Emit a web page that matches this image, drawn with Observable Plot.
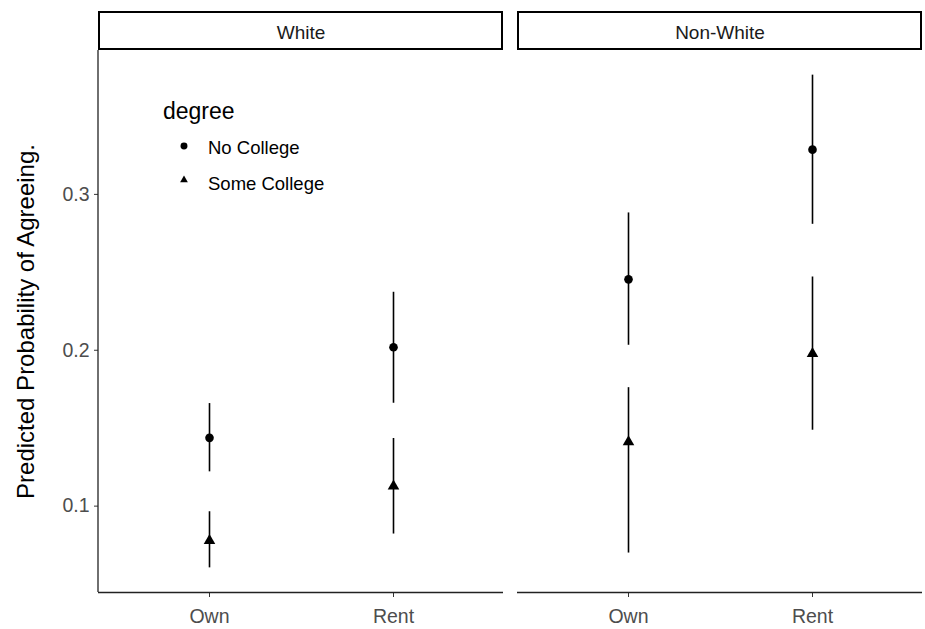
<!DOCTYPE html>
<html>
<head>
<meta charset="utf-8">
<script src="https://cdn.jsdelivr.net/npm/d3@7"></script>
<script src="https://cdn.jsdelivr.net/npm/@observablehq/plot@0.6"></script>
<style>
  html, body { margin: 0; padding: 0; background: white; }
  #chart { width: 925px; height: 629px; }
</style>
</head>
<body>
<div id="chart"></div>
<script>
// ---- data ----
const races = ["White", "Non-White"];
const tenures = ["Own", "Rent"];
const degrees = ["No College", "Some College"];
const yTicks = [0.1, 0.2, 0.3];
const yTitle = "Predicted Probability of Agreeing.";
const legendTitle = "degree";
// order: race × tenure × degree
const estimate = [0.1438, 0.0778, 0.2019, 0.1128, 0.2455, 0.1412, 0.3287, 0.1978];
const lower    = [0.1220, 0.0604, 0.1660, 0.0821, 0.2032, 0.0699, 0.2808, 0.1487];
const upper    = [0.1658, 0.0964, 0.2372, 0.1434, 0.2881, 0.1760, 0.3765, 0.2470];

const data = [];
let k = 0;
for (const race of races) for (const tenure of tenures) for (const degree of degrees) {
  data.push({race, tenure, degree, est: estimate[k], lo: lower[k], hi: upper[k]});
  k++;
}
const lo = d3.min(lower), hi = d3.max(upper);
const yDomain = [lo - 0.05 * (hi - lo), hi + 0.05 * (hi - lo)];

const font = "'Liberation Sans', Arial, sans-serif";

const chart = Plot.plot({
  width: 925, height: 629,
  marginLeft: 98, marginRight: 3, marginTop: 50, marginBottom: 37,
  style: {fontFamily: font, background: "white", overflow: "visible"},
  fx: {domain: races, paddingInner: 14 / 419, paddingOuter: 0},
  x: {domain: tenures, type: "point", padding: 0.6},
  y: {domain: yDomain},
  symbol: {domain: degrees, range: ["circle", "triangle"]},
  marks: [
    Plot.axisFx({anchor: "top", label: null, tickSize: 0, tickPadding: 12, fontSize: 19, fill: "#1a1a1a"}),
    Plot.axisY({ticks: yTicks, tickFormat: ".1f", tickSize: 4, tickPadding: 5, fontSize: 19.5,
                fill: "#4d4d4d", stroke: "#333", label: null}),
    Plot.axisX({tickSize: 5, tickPadding: 12, fontSize: 19.5, fill: "#4d4d4d", stroke: "#333", label: null}),
    Plot.text([yTitle], {fx: () => races[0], frameAnchor: "left", textAnchor: "middle", rotate: -90, dx: -72,
                         fontSize: 24, fill: "black", text: d => d}),
    Plot.ruleY([yDomain[0]], {stroke: "#222", strokeWidth: 1.3}),
    Plot.ruleX(data, {fx: "race", x: "tenure", y1: "lo", y2: "hi", stroke: "black", strokeWidth: 1.6}),
    Plot.dot(data, {fx: "race", x: "tenure", y: "est", symbol: "degree", fill: "black", r: 4.3})
  ]
});

document.getElementById("chart").appendChild(chart);

// ---- decorations: strip boxes, left axis line, legend ----
const svg = d3.select(chart);
const fx = chart.scale("fx");
const ys = chart.scale("y");
const bw = fx.bandwidth;

const strips = svg.append("g");
for (const r of races) {
  const x0 = fx.apply(r);
  strips.append("rect")
    .attr("x", x0 + 1).attr("y", 12)
    .attr("width", bw - 2).attr("height", 37)
    .attr("fill", "none").attr("stroke", "black").attr("stroke-width", 2);
}

const yr = ys.range;
svg.append("line")
  .attr("x1", fx.apply(races[0])).attr("x2", fx.apply(races[0]))
  .attr("y1", yr[0]).attr("y2", yr[1])
  .attr("stroke", "#222").attr("stroke-width", 1.3);

const leg = svg.append("g").attr("font-family", font).attr("text-anchor", "start");
leg.append("text").attr("x", 163).attr("y", 119).attr("font-size", 23).attr("fill", "black").text(legendTitle);
const symTypes = [d3.symbolCircle, d3.symbolTriangle];
const symSizes = [38, 26];
degrees.forEach((d, i) => {
  const cy = 146 + i * 34;
  leg.append("path")
    .attr("d", d3.symbol().type(symTypes[i]).size(symSizes[i])())
    .attr("transform", `translate(184,${cy})`)
    .attr("fill", "black");
  leg.append("text").attr("x", 208).attr("y", 154 + i * 36)
    .attr("font-size", 18.5).attr("fill", "black").text(d);
});
</script>
</body>
</html>
